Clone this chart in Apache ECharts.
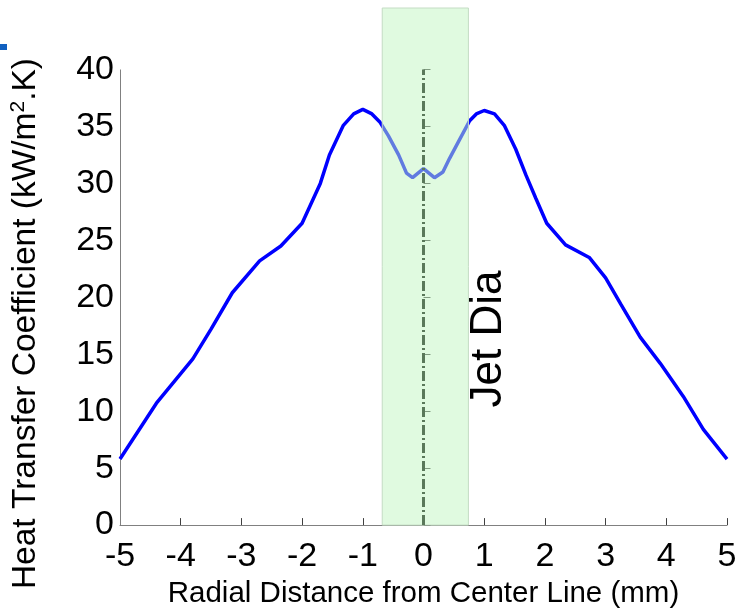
<!DOCTYPE html>
<html><head><meta charset="utf-8">
<script src="https://cdn.jsdelivr.net/npm/echarts@6/dist/echarts.min.js"></script>
<style>html,body{margin:0;padding:0;background:#fff}#c{width:750px;height:614px}</style>
</head><body><div id="c"></div>
<script>
// Data
const radialDistance = [-5, -4.4, -3.8, -3.5, -3.15, -2.7, -2.35, -2.0, -1.7, -1.55, -1.32, -1.15, -1.0, -0.85, -0.72, -0.58, -0.41, -0.28, -0.18, 0, 0.18, 0.32, 0.43, 0.57, 0.76, 0.87, 1.0, 1.17, 1.33, 1.52, 1.69, 1.85, 2.03, 2.34, 2.73, 3.0, 3.25, 3.57, 3.9, 4.28, 4.61, 5.0];
const heatTransfer = [5.8, 10.7, 14.6, 17.2, 20.4, 23.2, 24.5, 26.5, 30.0, 32.5, 35.1, 36.1, 36.5, 36.1, 35.4, 34.2, 32.5, 30.9, 30.5, 31.3, 30.5, 31.0, 32.2, 33.6, 35.5, 36.1, 36.4, 36.1, 35.1, 33.0, 30.7, 28.7, 26.5, 24.6, 23.5, 21.7, 19.4, 16.5, 14.2, 11.3, 8.4, 5.8];
const yTickValues = [0, 5, 10, 15, 20, 25, 30, 35, 40];
const xRange = [-5, 5];
const jetDiaRange = [-0.68, 0.74];
const bandTop = 45.4;
const centerLine = [0, 40];

const FONT = "'Liberation Sans', Arial, sans-serif";
const chart = echarts.init(document.getElementById('c'), null, {renderer: 'canvas'});
chart.setOption({
  animation: false,
  backgroundColor: '#ffffff',
  grid: {left: 117, right: 23, top: 8, bottom: 84, containLabel: false},
  xAxis: {
    type: 'value', min: xRange[0], max: xRange[1], interval: 1,
    name: 'Radial Distance from Center Line (mm)',
    nameLocation: 'middle', nameGap: 53,
    nameTextStyle: {fontFamily: FONT, fontSize: 29.5, color: '#000'},
    axisLine: {show: true, onZero: false, lineStyle: {color: '#808080', width: 1}},
    axisTick: {show: true, inside: true, length: 7, lineStyle: {color: '#404040'}},
    axisLabel: {fontFamily: FONT, fontSize: 34, color: '#000', margin: 15},
    splitLine: {show: false}
  },
  yAxis: {
    type: 'value', min: 0, max: bandTop, interval: 5,
    name: 'Heat Transfer Coefficient (kW/m{sup|2}.K)',
    nameLocation: 'middle', nameGap: 77, nameRotate: 90,
    nameTextStyle: {fontFamily: FONT, fontSize: 33.5, color: '#000', padding: [0, 114, 0, 0],
      rich: {sup: {fontFamily: FONT, fontSize: 21, color: '#000', verticalAlign: 'top', padding: [0, 0, 14, 0]}}},
    axisLine: {show: false},
    axisTick: {show: true, inside: true, length: 7, customValues: yTickValues, lineStyle: {color: '#404040'}},
    axisLabel: {fontFamily: FONT, fontSize: 34, color: '#000', margin: 6, customValues: yTickValues},
    splitLine: {show: false}
  },
  series: [
    {
      type: 'line', z: 2,
      data: radialDistance.map((x, i) => [x, heatTransfer[i]]),
      symbol: 'none', smooth: false,
      lineStyle: {color: '#0000ff', width: 3.5},
      markLine: {
        silent: true, symbol: ['none', 'none'], z: 1,
        label: {show: false},
        lineStyle: {color: '#808080', width: 1, type: 'solid'},
        data: [[{coord: [xRange[0], 0]}, {coord: [xRange[0], yTickValues[yTickValues.length - 1]]}]]
      }
    },
    {
      type: 'line', z: 3, data: [], symbol: 'none',
      markArea: {
        silent: true, z: 3,
        itemStyle: {color: 'rgba(193,245,193,0.5)', borderColor: '#c4dcc4', borderWidth: 1},
        data: [[{coord: [jetDiaRange[0], 0]}, {coord: [jetDiaRange[1], bandTop]}]]
      },
      markLine: {
        silent: true, symbol: ['none', 'none'], z: 5,
        label: {show: false},
        lineStyle: {color: '#5a785a', width: 3, type: [10, 3, 2, 3]},
        data: [[{coord: [0, centerLine[0]]}, {coord: [0, centerLine[1]]}]]
      }
    }
  ],
  graphic: [
    {type: 'rect', left: 0, top: 44, shape: {width: 7, height: 6}, style: {fill: '#1060c0'}},
    {type: 'text', x: 489, y: 339, rotation: Math.PI / 2,
      style: {text: 'Jet Dia', fontFamily: FONT, fontSize: 44, fill: '#000', align: 'center', verticalAlign: 'middle'}}
  ]
});
</script>
</body></html>
